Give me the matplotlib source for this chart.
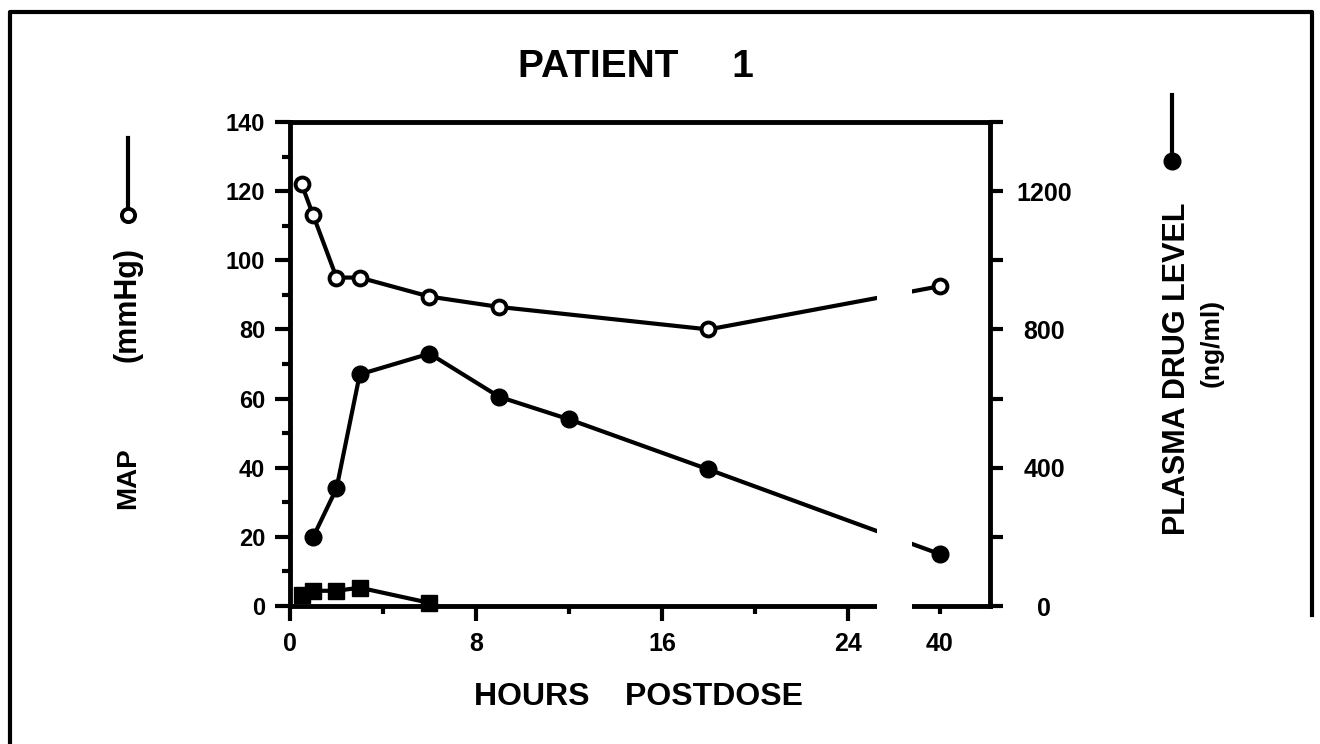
import numpy as np
import matplotlib
matplotlib.use('Agg')
import matplotlib.pyplot as plt
from matplotlib.patches import Rectangle
from matplotlib.lines import Line2D
from matplotlib.transforms import blended_transform_factory

plt.rcParams['font.family'] = ['Liberation Sans', 'DejaVu Sans']
plt.rcParams['font.weight'] = 'bold'

# data
map_hours = [0.5, 1, 2, 3, 6, 9, 18, 40]
map_mmhg = [122, 113, 95, 95, 89.5, 86.5, 80, 92.5]

drug_hours = [1, 2, 3, 6, 9, 12, 18, 40]
drug_ngml = [200, 340, 670, 730, 605, 540, 395, 150]

sq_hours = [0.5, 1, 2, 3, 6]
sq_ngml = [32, 44, 44, 53, 9]

xticks = [0, 8, 16, 24]
xticklabels = ['0', '8', '16', '24']
xminor = [4, 12, 20, 40]
xminorlabels = ['', '', '', '40']
yticks = [0, 20, 40, 60, 80, 100, 120, 140]
y2ticks = [0, 200, 400, 600, 800, 1000, 1200, 1400]
y2labels = ['0', '', '400', '', '800', '', '1200', '']

# broken time axis: hours past 24 squeezed
K = 0.2473
def fwd(x):
    x = np.asarray(x, dtype=float)
    return np.where(x <= 24, x, 24 + (x - 24) * K)

def inv(p):
    p = np.asarray(p, dtype=float)
    return np.where(p <= 24, p, 24 + (p - 24) / K)

W, H = 1320, 744
fig = plt.figure(figsize=(13.2, 7.44), dpi=100)
ax = fig.add_axes([290 / W, 1 - 606 / H, 700 / W, 484 / H])
ax2 = ax.twinx()

ax.set_xscale('function', functions=(fwd, inv))
ax.set_xlim(0, 48.7)
ax.set_ylim(0, 140)
ax2.set_ylim(0, 1400)

lw = 3
ax.plot(map_hours, map_mmhg, color='black', lw=lw, marker='o', ms=10,
        mfc='white', mec='black', mew=2.8, zorder=2, clip_on=False)
ax2.plot(drug_hours, drug_ngml, color='black', lw=lw, marker='o', ms=12,
         mfc='black', mec='black', zorder=2, clip_on=False)
ax2.plot(sq_hours, sq_ngml, color='black', lw=lw, marker='s', ms=11.5,
         mfc='black', mec='black', zorder=2, clip_on=False)

# gap for the axis break
tr = blended_transform_factory(ax2.transData, ax2.transAxes)
ax2.add_patch(Rectangle((29.0, -0.02), 6.1, 1.0, transform=tr,
                        facecolor='white', edgecolor='none', zorder=5, clip_on=False))

for s in ['top', 'bottom', 'left', 'right']:
    ax.spines[s].set_linewidth(3.5)
    ax2.spines[s].set_linewidth(3.5)
ax.spines['right'].set_visible(False)
for s in ['top', 'bottom', 'left']:
    ax2.spines[s].set_visible(False)

ax.set_xticks(xticks, labels=xticklabels)
ax.set_xticks(xminor, labels=xminorlabels, minor=True)
ax.set_yticks(yticks)
ax.set_yticks(np.arange(10, 140, 20), minor=True)
ax2.set_yticks(y2ticks, labels=y2labels)

ax.tick_params(axis='x', which='major', direction='out', length=11, width=3, pad=8, labelsize=18)
ax.tick_params(axis='x', which='minor', direction='out', length=6, width=3, pad=13, labelsize=18)
ax.tick_params(axis='y', which='major', direction='out', length=11, width=3, pad=7, labelsize=17)
ax.tick_params(axis='y', which='minor', direction='out', length=6, width=3)
ax2.tick_params(axis='y', direction='out', length=9, width=3, pad=30, labelsize=18)
for lab in ax2.get_yticklabels():
    lab.set_horizontalalignment('center')

fig.text(636 / W, 1 - 77 / H, 'PATIENT     1', fontsize=28, fontweight='bold',
         ha='center', va='baseline')
fig.text(638 / W, 1 - 705 / H, 'HOURS    POSTDOSE', fontsize=23, fontweight='bold',
         ha='center', va='baseline')

fig.text(128 / W, 1 - 478 / H, 'MAP', fontsize=20, fontweight='bold',
         rotation=90, ha='center', va='center')
fig.text(128 / W, 1 - 304 / H, '(mmHg)', fontsize=22, fontweight='bold',
         rotation=90, ha='center', va='center')
fig.text(1177 / W, 1 - 369 / H, 'PLASMA DRUG LEVEL', fontsize=22, fontweight='bold',
         rotation=90, ha='center', va='center')
fig.text(1212 / W, 1 - 343 / H, '(ng/ml)', fontsize=19, fontweight='bold',
         rotation=90, ha='center', va='center')

# little key glyphs next to the axis titles
fig.add_artist(Line2D([128 / W, 128 / W], [1 - 138 / H, 1 - 208 / H], color='black', lw=3))
fig.add_artist(Line2D([128 / W], [1 - 215 / H], marker='o', ms=9.5, mfc='white',
                      mec='black', mew=2.8, lw=0))
fig.add_artist(Line2D([1172 / W, 1172 / W], [1 - 95 / H, 1 - 155 / H], color='black', lw=3))
fig.add_artist(Line2D([1172 / W], [1 - 161 / H], marker='o', ms=12, mfc='black',
                      mec='black', lw=0))

# frame around the figure (right side stops short in the scan)
fig.add_artist(Line2D([10 / W, 10 / W, 1312 / W, 1312 / W],
                      [0, 1 - 12 / H, 1 - 12 / H, 1 - 615 / H],
                      color='black', lw=3))

fig.savefig('out.png', dpi=100, facecolor='white')
